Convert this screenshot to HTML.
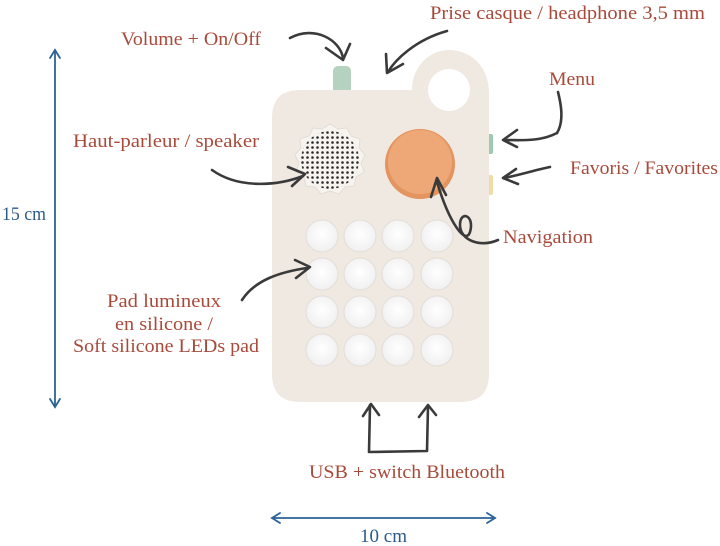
<!DOCTYPE html>
<html><head><meta charset="utf-8"><style>
html,body{margin:0;padding:0;background:#fff;}
svg{display:block;}
text{font-family:"Liberation Serif",serif;font-size:19px;fill:#a84a3a;}
</style></head><body>
<svg width="720" height="546" viewBox="0 0 720 546" xmlns="http://www.w3.org/2000/svg">
<defs>
<pattern id="dots" width="5" height="5" patternUnits="userSpaceOnUse">
<circle cx="2.5" cy="2.5" r="1.3" fill="#2a2a2a"/></pattern>
<radialGradient id="pad" cx="50%" cy="45%" r="55%"><stop offset="0" stop-color="#ffffff"/><stop offset="1" stop-color="#f0f0f0"/></radialGradient>
</defs>
<rect x="333" y="66" width="18" height="28" rx="5" fill="#b5d1bf"/>
<rect x="487" y="134" width="6" height="20" rx="2" fill="#9ccbb0"/>
<rect x="487" y="175" width="6" height="20" rx="2" fill="#f1dca6"/>
<path d="M300 90 H412 C412 68 428 50 449 50 C472 50 489 68 489 92 V374 Q489 402 461 402 H300 Q272 402 272 374 V118 Q272 90 300 90 Z" fill="#efe9e2"/>
<circle cx="449" cy="90" r="21" fill="#fff"/>
<g transform="translate(330,160)">
<path d="M0,-36 L8,-31 17,-32 21,-24 30,-21 29,-12 35,-5 31,3 34,12 26,17 24,26 15,27 9,34 0,31 -9,34 -15,27 -24,26 -26,17 -34,12 -31,3 -35,-5 -29,-12 -30,-21 -21,-24 -17,-32 -8,-31 Z" fill="#f7f4f0" stroke="#e4ddd5"/>
<circle r="29" fill="url(#dots)"/>
</g>
<circle cx="420" cy="164" r="35" fill="#e3945f"/>
<circle cx="420" cy="162" r="32" fill="#eea878"/>
<g fill="url(#pad)" stroke="#e2ddd7">
<circle cx="322" cy="236" r="16"/><circle cx="360" cy="236" r="16"/><circle cx="398" cy="236" r="16"/><circle cx="437" cy="236" r="16"/>
<circle cx="322" cy="274" r="16"/><circle cx="360" cy="274" r="16"/><circle cx="398" cy="274" r="16"/><circle cx="437" cy="274" r="16"/>
<circle cx="322" cy="312" r="16"/><circle cx="360" cy="312" r="16"/><circle cx="398" cy="312" r="16"/><circle cx="437" cy="312" r="16"/>
<circle cx="322" cy="350" r="16"/><circle cx="360" cy="350" r="16"/><circle cx="398" cy="350" r="16"/><circle cx="437" cy="350" r="16"/>
</g>
<g fill="none" stroke="#3a3a3a" stroke-width="2.6" stroke-linecap="round" stroke-linejoin="round">
<path d="M290 38 C315 25 340 40 343 58"/><path d="M326 48 L343 60 L350 44"/>
<path d="M447 31 C415 40 395 60 388 72"/><path d="M386 54 L387 73 L403 64"/>
<path d="M557 133 C565 120 560 100 558 92"/>
<path d="M557 133 C540 142 520 140 504 140"/><path d="M517 130 L503 140 L517 147"/>
<path d="M550 167 C535 170 520 175 504 178"/><path d="M516 169 L503 178 L518 184"/>
<path d="M212 170 C240 190 280 185 303 176"/><path d="M288 167 L305 174 L292 186"/>
<path d="M498 240 C480 248 460 240 460 225 C460 210 475 215 470 232 C466 245 450 225 437 182"/><path d="M431 197 L437 178 L446 195"/>
<path d="M242 300 C255 280 280 272 307 268"/><path d="M295 260 L310 267 L296 278"/>
<path d="M370 405 L369 452 L427 451 L428 406"/><path d="M363 416 L371 404 L379 415"/><path d="M419 417 L428 405 L436 415"/>
</g>
<g fill="none" stroke="#2a6397" stroke-width="1.8" stroke-linecap="round">
<path d="M55 50 V407"/><path d="M50 58 L55 50 L60 58"/><path d="M50 399 L55 407 L60 399"/>
<path d="M272 518 H495"/><path d="M280 513 L272 518 L280 523"/><path d="M487 513 L495 518 L487 523"/>
</g>
<g>
<text x="121" y="45" textLength="140" lengthAdjust="spacingAndGlyphs">Volume + On/Off</text>
<text x="430" y="19" textLength="275" lengthAdjust="spacingAndGlyphs">Prise casque / headphone 3,5 mm</text>
<text x="549" y="85" textLength="46" lengthAdjust="spacingAndGlyphs">Menu</text>
<text x="73" y="147" textLength="186" lengthAdjust="spacingAndGlyphs">Haut-parleur / speaker</text>
<text x="570" y="174" textLength="148" lengthAdjust="spacingAndGlyphs">Favoris / Favorites</text>
<text x="503" y="243" textLength="90" lengthAdjust="spacingAndGlyphs">Navigation</text>
<text x="107" y="307" textLength="114" lengthAdjust="spacingAndGlyphs">Pad lumineux</text>
<text x="115" y="330" textLength="98" lengthAdjust="spacingAndGlyphs">en silicone /</text>
<text x="73" y="352" textLength="186" lengthAdjust="spacingAndGlyphs">Soft silicone LEDs pad</text>
<text x="309" y="478" textLength="196" lengthAdjust="spacingAndGlyphs">USB + switch Bluetooth</text>
<text x="2" y="220" textLength="44" lengthAdjust="spacingAndGlyphs" style="fill:#2a5a8a">15 cm</text>
<text x="360" y="542" textLength="47" lengthAdjust="spacingAndGlyphs" style="fill:#2a5a8a">10 cm</text>
</g>
</svg>
</body></html>
